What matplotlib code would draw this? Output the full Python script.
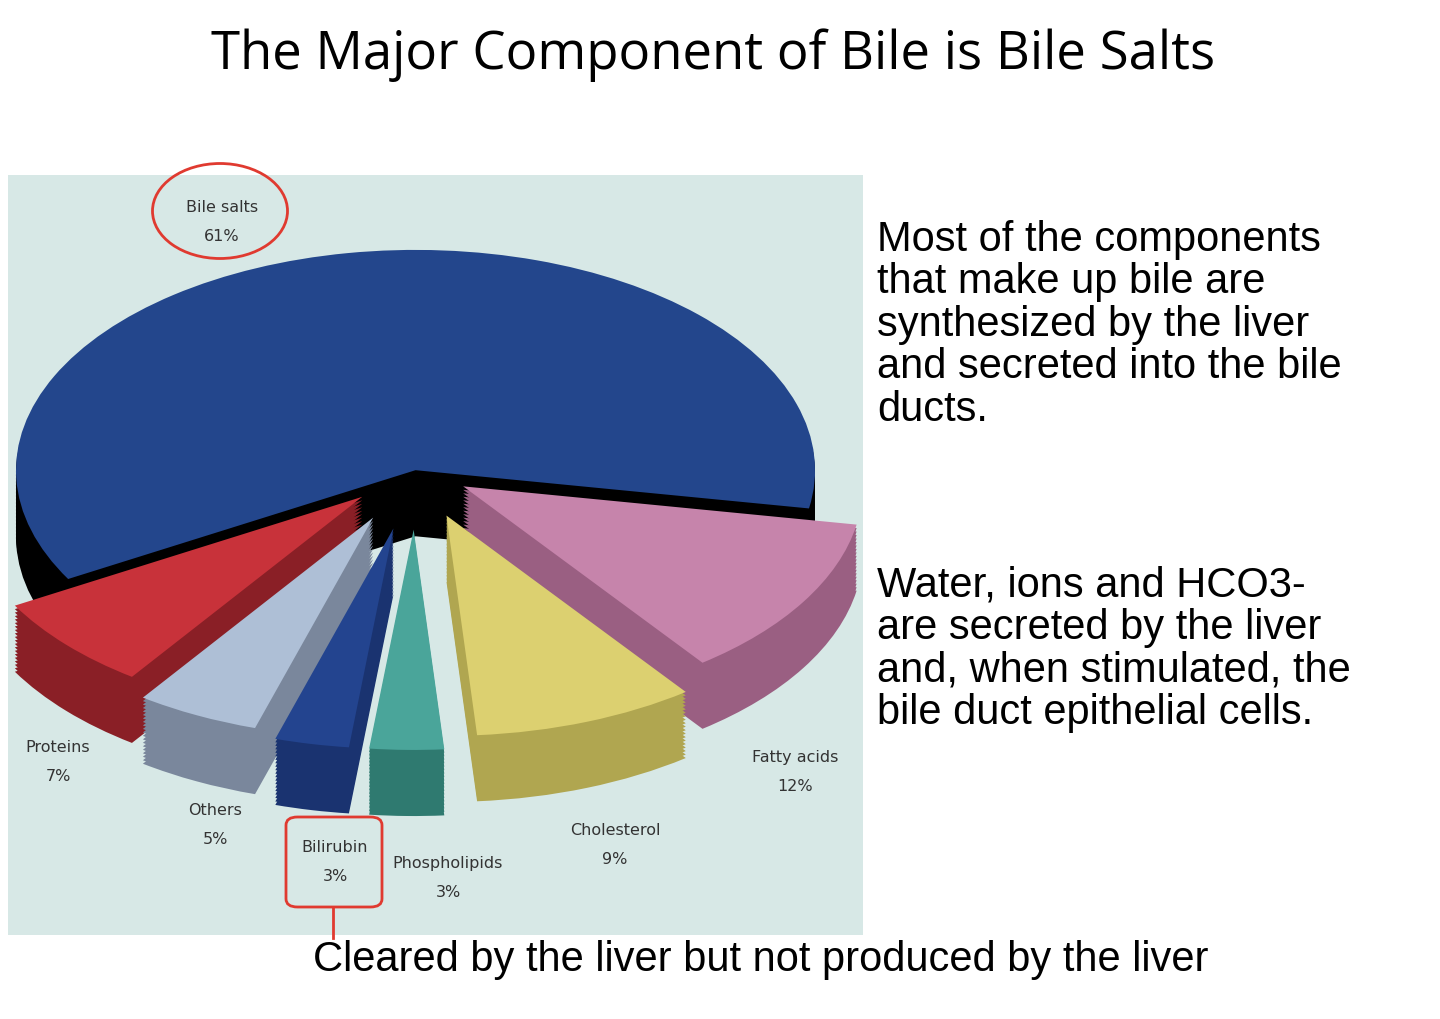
import matplotlib
matplotlib.use("Agg")
import matplotlib.pyplot as plt
from matplotlib.patches import Ellipse, FancyBboxPatch
import numpy as np

labels = ["Bile salts", "Proteins", "Others", "Bilirubin", "Phospholipids", "Cholesterol", "Fatty acids"]
values = [61, 7, 5, 3, 3, 9, 12]
colors = ["#23468c", "#c8323a", "#aebfd6", "#23448f", "#4aa59a", "#dcd070", "#c684ab"]
dark = ["#000000", "#8a1f26", "#7a879c", "#1a3370", "#2f7a70", "#b0a650", "#9a5f82"]
explode = [0.0, 0.18, 0.24, 0.27, 0.27, 0.22, 0.14]

W, H = 1440, 1019
fig = plt.figure(figsize=(W/100, H/100), dpi=100)
fig.patch.set_facecolor("white")

def fx(x): return x / W
def fy(y): return 1 - y / H

x0, x1, y0, y1 = 8, 863, 175, 935
ax = fig.add_axes([fx(x0), fy(y1), fx(x1) - fx(x0), (y1 - y0) / H])

depth = 0.30
for i, d in enumerate(np.linspace(depth, 0.0, 20)):
    cols = dark if d > 0 else colors
    ax.pie(values, colors=cols, explode=explode, startangle=-10, counterclock=True,
           center=(0, -d), radius=1.0, wedgeprops=dict(linewidth=0))
ax.set_frame_on(True)
ax.set_facecolor("#d7e8e6")
ax.set_xticks([]); ax.set_yticks([])
for s in ax.spines.values(): s.set_visible(False)
ax.set_aspect("auto")
ax.set_xlim(-1.02, 1.12)
ax.set_ylim(-2.11, 1.34)

fig.text(fx(713), fy(55), "The Major Component of Bile is Bile Salts", ha="center", va="center",
         fontsize=38, family="Open Sans")
body1 = "Most of the components\nthat make up bile are\nsynthesized by the liver\nand secreted into the bile\nducts."
body2 = "Water, ions and HCO3-\nare secreted by the liver\nand, when stimulated, the\nbile duct epithelial cells."
fig.text(fx(877), fy(220), body1, ha="left", va="top", fontsize=30, linespacing=1.08, family="Liberation Sans")
fig.text(fx(877), fy(566), body2, ha="left", va="top", fontsize=30, linespacing=1.08, family="Liberation Sans")
fig.text(fx(313), fy(960), "Cleared by the liver but not produced by the liver", ha="left", va="center",
         fontsize=30, family="Liberation Sans")

lab_pos = {"Bile salts": (222, 222), "Proteins": (58, 762), "Others": (215, 825),
           "Bilirubin": (335, 862), "Phospholipids": (448, 878), "Cholesterol": (615, 845),
           "Fatty acids": (795, 772)}
for l, v in zip(labels, values):
    x, y = lab_pos[l]
    fig.text(fx(x), fy(y), f"{l}\n\n{v}%", ha="center", va="center", fontsize=11.5,
             color="#333333", linespacing=0.95)

fig.add_artist(Ellipse((fx(220), fy(211)), 135 / W, 95 / H, transform=fig.transFigure,
                       fill=False, edgecolor="#e03a30", linewidth=2))
fig.add_artist(FancyBboxPatch((fx(286), fy(907)), 96 / W, 90 / H, transform=fig.transFigure,
                              boxstyle="round,pad=0,rounding_size=0.008", fill=False,
                              edgecolor="#e03a30", linewidth=2))
fig.add_artist(plt.Line2D([fx(333), fx(333)], [fy(907), fy(938)], transform=fig.transFigure,
                          color="#e03a30", linewidth=2))

fig.savefig("out.png", dpi=100)
